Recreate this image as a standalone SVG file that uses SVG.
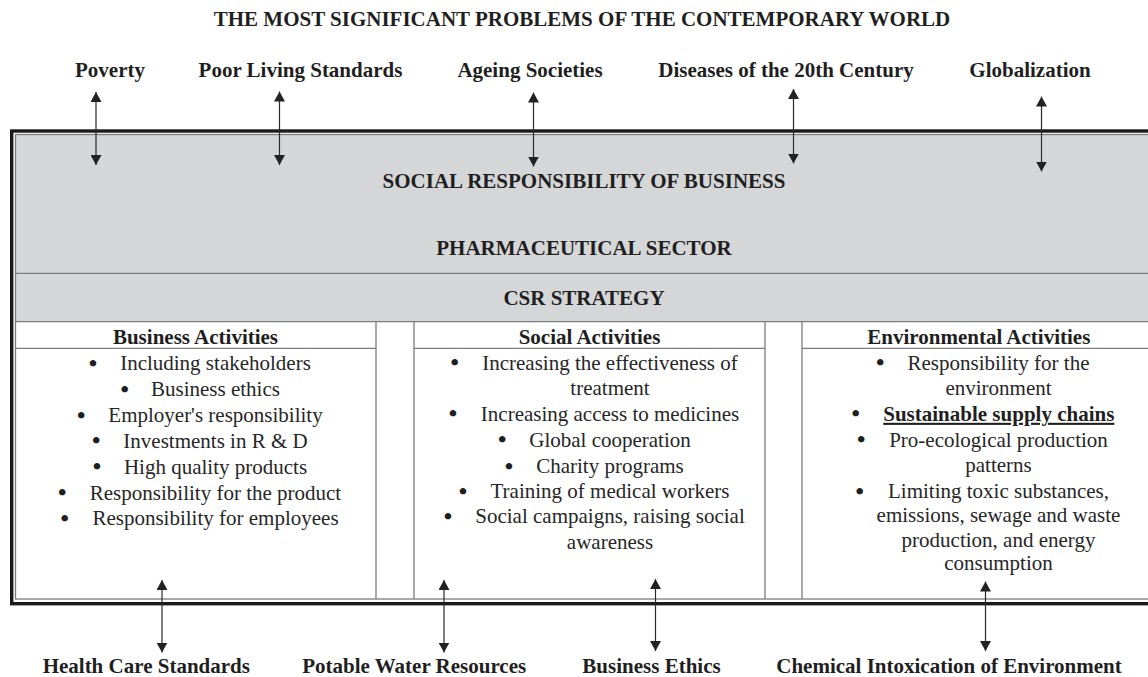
<svg xmlns="http://www.w3.org/2000/svg" width="1148" height="677" viewBox="0 0 1148 677" font-family="Liberation Serif, DejaVu Serif, serif">
  <defs>
    <marker id="arrowhead" viewBox="0 0 10 11" markerWidth="10" markerHeight="11" refX="10" refY="5.5" orient="auto-start-reverse" markerUnits="userSpaceOnUse">
      <path d="M0,0 L10,5.5 L0,11 z" fill="#222"/>
    </marker>
    <style>
      text{font-family:'Liberation Serif','DejaVu Serif',serif}
      .t{font-size:21px;fill:#262626}
      .b{font-weight:bold;fill:#1f1f1f}
      .c{text-anchor:middle}
      .dot{font-size:24px;font-weight:bold;fill:#1f1f1f;text-anchor:middle}
      .rule{stroke:#7c7c7c;stroke-width:1.3;fill:none}
      .conn{stroke:#2a2a2a;stroke-width:1.2;fill:none;marker-start:url(#arrowhead);marker-end:url(#arrowhead)}
    </style>
  </defs>

  <rect width="1148" height="677" fill="#ffffff"/>

  <!-- heading -->
  <g id="heading">
    <text class="t b c" x="582" y="26">THE MOST SIGNIFICANT PROBLEMS OF THE CONTEMPORARY WORLD</text>
  </g>

  <!-- problems above the frame -->
  <g id="problem-poverty"><text class="t b c" x="110" y="76.5">Poverty</text></g>
  <g id="problem-living"><text class="t b c" x="300.5" y="76.5">Poor Living Standards</text></g>
  <g id="problem-ageing"><text class="t b c" x="530" y="76.5">Ageing Societies</text></g>
  <g id="problem-diseases"><text class="t b c" x="786" y="76.5">Diseases of the 20th Century</text></g>
  <g id="problem-globalization"><text class="t b c" x="1030" y="76.5">Globalization</text></g>

  <!-- main frame: social responsibility / pharmaceutical sector / CSR strategy -->
  <g id="csr-frame">
    <rect x="15" y="134.5" width="1150" height="187.2" fill="#d5d6d8"/>
    <rect x="11.7" y="131" width="1160" height="472.7" fill="none" stroke="#1a1a1a" stroke-width="3.4"/>
    <rect x="15.5" y="134.5" width="1150" height="464.5" class="rule"/>
    <line x1="15.5" y1="273.3" x2="1165" y2="273.3" class="rule"/>
    <line x1="15.5" y1="321.7" x2="1165" y2="321.7" class="rule"/>
    <text class="t b c" x="584" y="188">SOCIAL RESPONSIBILITY OF BUSINESS</text>
    <text class="t b c" x="584" y="255">PHARMACEUTICAL SECTOR</text>
    <text class="t b c" x="584" y="305">CSR STRATEGY</text>
  </g>

  <!-- spacer columns between activity columns -->
  <g id="column-rules">
    <line x1="376" y1="321.7" x2="376" y2="599" class="rule"/>
    <line x1="414" y1="321.7" x2="414" y2="599" class="rule"/>
    <line x1="765" y1="321.7" x2="765" y2="599" class="rule"/>
    <line x1="802" y1="321.7" x2="802" y2="599" class="rule"/>
  </g>

  <!-- business activities -->
  <g id="business-activities">
    <line x1="15.5" y1="348.3" x2="376" y2="348.3" class="rule"/>
    <text class="t b c" x="195.5" y="343.5">Business Activities</text>
    <text class="dot" x="93" y="370.5">•</text>
    <text class="t c" x="215.5" y="370">Including stakeholders</text>
    <text class="dot" x="124.7" y="396.5">•</text>
    <text class="t c" x="215.5" y="396">Business ethics</text>
    <text class="dot" x="81.3" y="422.5">•</text>
    <text class="t c" x="215.5" y="422">Employer's responsibility</text>
    <text class="dot" x="96.3" y="448">•</text>
    <text class="t c" x="215.5" y="447.5">Investments in R &amp; D</text>
    <text class="dot" x="97" y="474">•</text>
    <text class="t c" x="215.5" y="473.5">High quality products</text>
    <text class="dot" x="62.3" y="500">•</text>
    <text class="t c" x="215.5" y="499.5">Responsibility for the product</text>
    <text class="dot" x="64.7" y="525.5">•</text>
    <text class="t c" x="215.5" y="525">Responsibility for employees</text>
  </g>

  <!-- social activities -->
  <g id="social-activities">
    <line x1="414" y1="348.3" x2="765" y2="348.3" class="rule"/>
    <text class="t b c" x="589.5" y="343.5">Social Activities</text>
    <text class="dot" x="454.7" y="370.3">•</text>
    <text class="t c" x="610" y="369.8">Increasing the effectiveness of</text>
    <text class="t c" x="610" y="394.8">treatment</text>
    <text class="dot" x="453" y="421.3">•</text>
    <text class="t c" x="610" y="420.8">Increasing access to medicines</text>
    <text class="dot" x="502.3" y="447">•</text>
    <text class="t c" x="610" y="446.5">Global cooperation</text>
    <text class="dot" x="509" y="473.5">•</text>
    <text class="t c" x="610" y="473">Charity programs</text>
    <text class="dot" x="463" y="498.7">•</text>
    <text class="t c" x="610" y="498.2">Training of medical workers</text>
    <text class="dot" x="448" y="523.7">•</text>
    <text class="t c" x="610" y="523.2">Social campaigns, raising social</text>
    <text class="t c" x="610" y="549">awareness</text>
  </g>

  <!-- environmental activities -->
  <g id="environmental-activities">
    <line x1="802" y1="348.3" x2="1165" y2="348.3" class="rule"/>
    <text class="t b c" x="978.8" y="343.5">Environmental Activities</text>
    <text class="dot" x="880.3" y="370.3">•</text>
    <text class="t c" x="998.5" y="369.8">Responsibility for the</text>
    <text class="t c" x="998.5" y="394.8">environment</text>
    <text class="dot" x="855.7" y="421.3">•</text>
    <text class="t b c" x="998.8" y="420.8" text-decoration="underline">Sustainable supply chains</text>
    <text class="dot" x="861.3" y="447">•</text>
    <text class="t c" x="998.5" y="446.5">Pro-ecological production</text>
    <text class="t c" x="998.5" y="471.5">patterns</text>
    <text class="dot" x="859.7" y="498.7">•</text>
    <text class="t c" x="998.5" y="498.2">Limiting toxic substances,</text>
    <text class="t c" x="998.5" y="521.5">emissions, sewage and waste</text>
    <text class="t c" x="998.5" y="546.5">production, and energy</text>
    <text class="t c" x="998.5" y="569.8">consumption</text>
  </g>

  <!-- problems below the frame -->
  <g id="problem-health"><text class="t b c" x="146.3" y="673">Health Care Standards</text></g>
  <g id="problem-water"><text class="t b c" x="414.2" y="673">Potable Water Resources</text></g>
  <g id="problem-ethics"><text class="t b c" x="651.5" y="673">Business Ethics</text></g>
  <g id="problem-chemical"><text class="t b c" x="949" y="673">Chemical Intoxication of Environment</text></g>

  <!-- two-way links between problems and the frame -->
  <g id="connectors">
    <line class="conn" x1="96" y1="92" x2="96" y2="165"/>
    <line class="conn" x1="279.5" y1="91.5" x2="279.5" y2="165"/>
    <line class="conn" x1="533.5" y1="92.5" x2="533.5" y2="166.5"/>
    <line class="conn" x1="793.5" y1="89" x2="793.5" y2="163.5"/>
    <line class="conn" x1="1041.5" y1="96.5" x2="1041.5" y2="171.5"/>
    <line class="conn" x1="162" y1="580" x2="162" y2="652.5"/>
    <line class="conn" x1="444" y1="580" x2="444" y2="652.5"/>
    <line class="conn" x1="655.5" y1="579" x2="655.5" y2="651"/>
    <line class="conn" x1="985.5" y1="581.5" x2="985.5" y2="651"/>
  </g>
</svg>
